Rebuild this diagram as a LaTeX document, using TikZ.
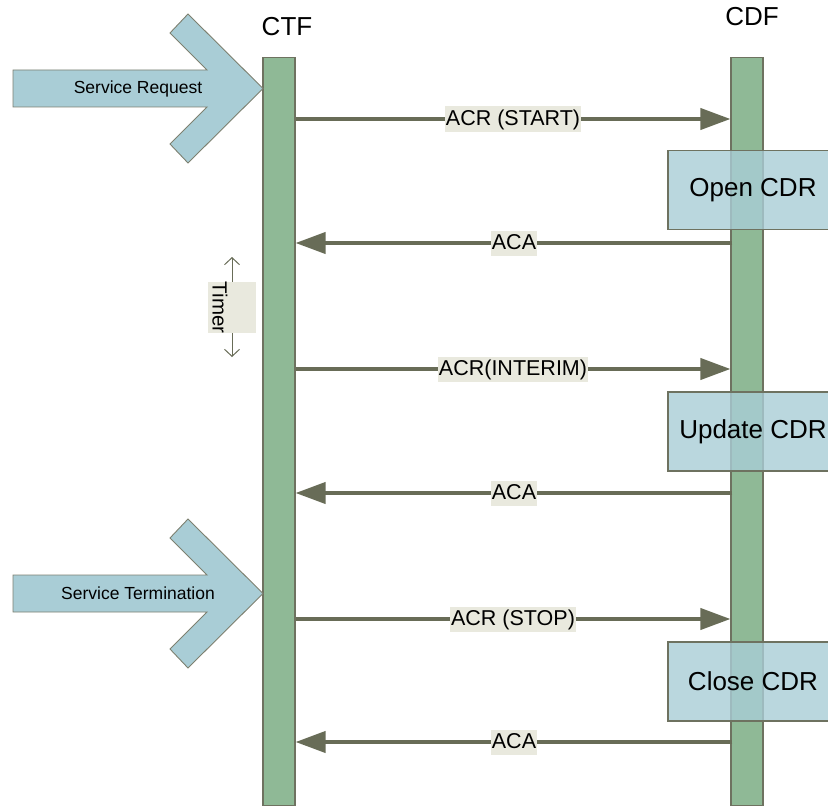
\documentclass[tikz,border=0pt]{standalone}
\usepackage{fontspec}
\setmainfont{Liberation Sans}
\usetikzlibrary{arrows.meta}

\definecolor{barfill}{RGB}{143,185,150}
\definecolor{barline}{RGB}{110,114,96}
\definecolor{msgline}{RGB}{104,108,87}
\definecolor{chevfill}{RGB}{169,205,214}
\definecolor{chevline}{RGB}{125,128,112}
\definecolor{lblfill}{RGB}{233,233,222}

\begin{document}
\begin{tikzpicture}[x=1pt,y=-1pt,
  lifeline/.style={draw=barline, line width=1.1pt, fill=barfill,
    minimum width=32pt, minimum height=748pt, inner sep=0pt, anchor=north},
  entity/.style={font=\fontsize{26}{30}\selectfont},
  msg/.style={draw=msgline, line width=4pt,
    -{Triangle[length=30pt,width=21pt]}},
  lbl/.style={fill=lblfill, inner xsep=1pt, inner ysep=1.5pt,
    text height=17pt, text depth=5pt,
    font=\fontsize{21.5}{24}\selectfont},
  cdrbox/.style={draw=barline, line width=1.1pt, fill=chevfill,
    fill opacity=0.8, text opacity=1, minimum width=170pt,
    minimum height=79pt, inner sep=0pt, font=\fontsize{26}{30}\selectfont},
  chevtext/.style={font=\fontsize{17.5}{20}\selectfont},
  chevron/.pic={
    \draw[draw=chevline, line width=0.9pt, fill=chevfill]
      (13,-18.5) -- (207,-18.5) -- (170,-55.5) -- (188,-74.5) -- (263,0)
      -- (188,74.5) -- (170,55.5) -- (207,18.5) -- (13,18.5) -- cycle;
  }]
\useasboundingbox (0,0) rectangle (828,808);

% lifelines
\node[lifeline] (ctf) at (279,57) {};
\node[lifeline] (cdf) at (747,57) {};
\node[entity] (ctflabel) at (287,27) {CTF};
\node[entity] (cdflabel) at (752,17) {CDF};

% incoming service events
\pic at (0,88.5) {chevron};
\node[chevtext] (req) at (138,88.5) {Service Request};
\pic at (0,593.5) {chevron};
\node[chevtext] (term) at (138,593.5) {Service Termination};

% message heights
\coordinate (m1) at (0,119);
\coordinate (m2) at (0,243);
\coordinate (m3) at (0,369);
\coordinate (m4) at (0,493);
\coordinate (m5) at (0,619);
\coordinate (m6) at (0,742);

\draw[msg] (ctf.east |- m1) -- node[lbl] {ACR (START)} (cdf.west |- m1);
\draw[msg] ([xshift=2pt]cdf.west |- m2) -- node[lbl] {ACA} (ctf.east |- m2);
\draw[msg] (ctf.east |- m3) -- node[lbl] {ACR(INTERIM)} (cdf.west |- m3);
\draw[msg] ([xshift=2pt]cdf.west |- m4) -- node[lbl] {ACA} (ctf.east |- m4);
\draw[msg] (ctf.east |- m5) -- node[lbl] {ACR (STOP)} (cdf.west |- m5);
\draw[msg] ([xshift=2pt]cdf.west |- m6) -- node[lbl] {ACA} (ctf.east |- m6);

% CDR handling on the CDF side
\node[cdrbox] (open) at (753,190) {Open CDR};
\node[cdrbox] (update) at (753,431.5) {Update CDR};
\node[cdrbox] (close) at (753,681.5) {Close CDR};

% interim timer
\coordinate (t1) at (232,257);
\coordinate (t2) at (232,357);
\draw[draw=msgline, line width=1pt,
  {Straight Barb[length=7pt,width=15pt]}-{Straight Barb[length=7pt,width=15pt]}]
  (t1) -- (t2);
\node[fill=lblfill, minimum width=48pt, minimum height=51pt, inner sep=0pt]
  (timerbox) at (232,307.5) {};
\node[rotate=-90, inner sep=0pt, font=\fontsize{20.5}{24}\selectfont]
  (timer) at (220,307.5) {Timer};
\end{tikzpicture}
\end{document}
